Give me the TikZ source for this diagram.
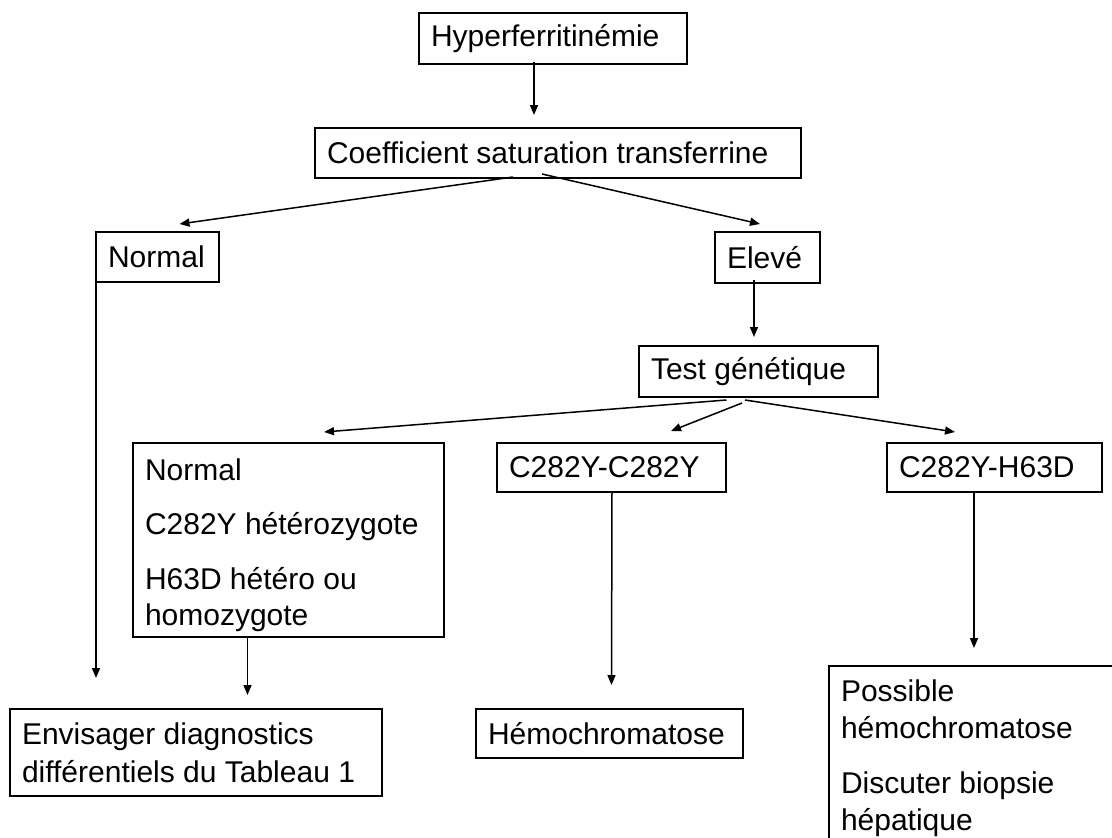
\documentclass[tikz,border=0pt]{standalone}
\usepackage{fontspec}
\setmainfont{Liberation Sans}
\usetikzlibrary{calc,arrows.meta}
\begin{document}
\begin{tikzpicture}[x=1pt,y=-1pt,
  box/.style={draw, line width=1.7pt, inner xsep=12pt, inner ysep=0pt, outer sep=0pt,
    anchor=north west, align=flush left, font=\fontsize{30}{36.5}\selectfont},
  arr/.style={line width=1.5pt, -{Triangle[length=10pt,width=8pt]}}]
\fill[white] (0,0) rectangle (1112,838);
\clip (0,0) rectangle (1112,838);
\node[box, text width=244pt, minimum height=51pt] (hyp) at (419,13) {Hyperferritinémie};
\node[box, text width=462pt, minimum height=50pt] (coef) at (315,128) {Coefficient saturation transferrine};
\node[box, text width=99pt, minimum height=50pt] (norm) at (96,232) {Normal};
\node[box, text width=81pt, minimum height=51pt] (elev) at (715,232) {Elevé};
\node[box, text width=215pt, minimum height=51pt] (test) at (639,346) {Test génétique};
\node[box, text width=287pt, minimum height=194pt] (grp) at (133,443) {\rule{0pt}{32pt}Normal\\[17.5pt]C282Y~hétérozygote\\[18.5pt]H63D hétéro ou\\homozygote};
\node[box, text width=205pt, minimum height=49pt] (cc) at (497,443) {C282Y-C282Y};
\node[box, text width=191pt, minimum height=49pt] (ch) at (887,443) {C282Y-H63D};
\node[box, text width=348pt, minimum height=87pt, font=\fontsize{30}{38}\selectfont] (env) at (10,709) {Envisager diagnostics\\différentiels du Tableau 1};
\node[box, text width=243pt, minimum height=49pt] (hem) at (476,709) {Hémochromatose};
\node[box, text width=276pt, minimum height=184pt] (pos) at (829,666) {Possible\\hémochromatose\\[19pt]Discuter biopsie\\hépatique};
% connectors
\draw[arr] ($(hyp.south)+(-19,-2)$) -- ($(coef.north)+(-24,-13)$);
\draw[arr] ($(coef.south)+(-45,-1)$) -- ($(norm.north)+(22,-8)$);
\draw[arr] ($(coef.south)+(-16,-4)$) -- ($(elev.north)+(-7.5,-8)$);
\draw[arr] (norm.south west) -- ($(norm.south west |- env.north)+(0,-31)$);
\draw[arr] ($(elev.south)+(-13.5,-3)$) -- ($(test.north)+(-4.5,-9)$);
\draw[arr] ($(test.south)+(-32,3)$) -- ($(grp.north)+(35.5,-11)$);
\draw[arr] ($(test.south)+(-16.5,6)$) -- ($(cc.north)+(59.5,-12)$);
\draw[arr] ($(test.south)+(-13.5,3)$) -- ($(ch.north)+(-39.5,-11)$);
\draw[arr] ($(grp.south)+(-41,0)$) -- ($(env.north)+(51.5,-14)$);
\draw[arr] ($(cc.south)+(0.5,0)$) -- ($(hem.north)+(2,-24)$);
\draw[arr] ($(ch.south)+(-20.5,0)$) -- ($(pos.north)+(-5,-18)$);
\end{tikzpicture}
\end{document}
